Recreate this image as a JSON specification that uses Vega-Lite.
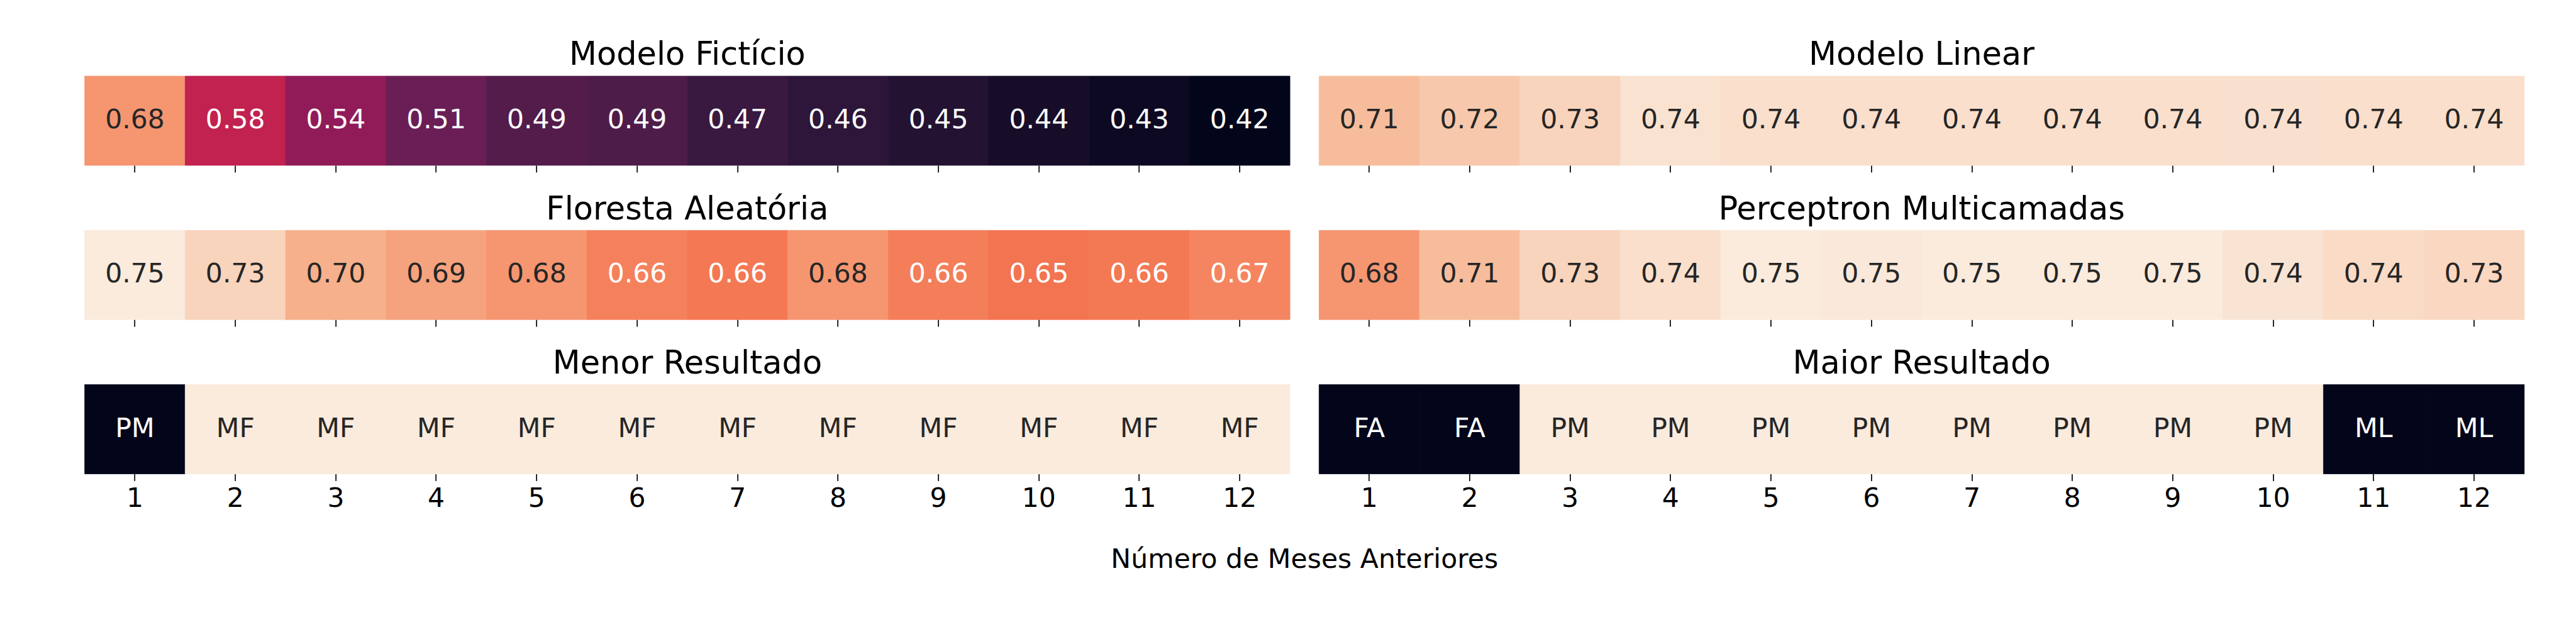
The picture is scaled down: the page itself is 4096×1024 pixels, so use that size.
{
  "$schema": "https://vega.github.io/schema/vega-lite/v6.json",
  "background": "white",
  "padding": {"left": 133.7, "top": 62, "right": 20, "bottom": 20},
  "config": {"view": {"stroke": null}, "font": "DejaVu Sans", "title": {"fontSize": 51, "font": "DejaVu Sans", "fontWeight": "normal", "color": "black", "baseline": "bottom", "offset": 6.3}},
  "title": {"text": "Número de Meses Anteriores", "orient": "bottom", "anchor": "middle", "fontSize": 42.6, "font": "DejaVu Sans", "fontWeight": "normal", "color": "black", "baseline": "alphabetic", "offset": 88},
  "datasets": {
    "ficticio": [
      {"mes": 1, "valor": 0.68}, {"mes": 2, "valor": 0.58}, {"mes": 3, "valor": 0.54}, {"mes": 4, "valor": 0.51},
      {"mes": 5, "valor": 0.491}, {"mes": 6, "valor": 0.487}, {"mes": 7, "valor": 0.47}, {"mes": 8, "valor": 0.46},
      {"mes": 9, "valor": 0.45}, {"mes": 10, "valor": 0.44}, {"mes": 11, "valor": 0.43}, {"mes": 12, "valor": 0.42}
    ],
    "linear": [
      {"mes": 1, "valor": 0.71}, {"mes": 2, "valor": 0.72}, {"mes": 3, "valor": 0.73}, {"mes": 4, "valor": 0.742},
      {"mes": 5, "valor": 0.74}, {"mes": 6, "valor": 0.74}, {"mes": 7, "valor": 0.74}, {"mes": 8, "valor": 0.74},
      {"mes": 9, "valor": 0.74}, {"mes": 10, "valor": 0.741}, {"mes": 11, "valor": 0.74}, {"mes": 12, "valor": 0.74}
    ],
    "floresta": [
      {"mes": 1, "valor": 0.75}, {"mes": 2, "valor": 0.73}, {"mes": 3, "valor": 0.70}, {"mes": 4, "valor": 0.69},
      {"mes": 5, "valor": 0.68}, {"mes": 6, "valor": 0.664}, {"mes": 7, "valor": 0.657}, {"mes": 8, "valor": 0.68},
      {"mes": 9, "valor": 0.662}, {"mes": 10, "valor": 0.654}, {"mes": 11, "valor": 0.658}, {"mes": 12, "valor": 0.667}
    ],
    "perceptron": [
      {"mes": 1, "valor": 0.68}, {"mes": 2, "valor": 0.71}, {"mes": 3, "valor": 0.73}, {"mes": 4, "valor": 0.74},
      {"mes": 5, "valor": 0.75}, {"mes": 6, "valor": 0.748}, {"mes": 7, "valor": 0.75}, {"mes": 8, "valor": 0.75},
      {"mes": 9, "valor": 0.75}, {"mes": 10, "valor": 0.744}, {"mes": 11, "valor": 0.736}, {"mes": 12, "valor": 0.733}
    ],
    "menor": [
      {"mes": 1, "modelo": "PM"}, {"mes": 2, "modelo": "MF"}, {"mes": 3, "modelo": "MF"}, {"mes": 4, "modelo": "MF"},
      {"mes": 5, "modelo": "MF"}, {"mes": 6, "modelo": "MF"}, {"mes": 7, "modelo": "MF"}, {"mes": 8, "modelo": "MF"},
      {"mes": 9, "modelo": "MF"}, {"mes": 10, "modelo": "MF"}, {"mes": 11, "modelo": "MF"}, {"mes": 12, "modelo": "MF"}
    ],
    "maior": [
      {"mes": 1, "modelo": "FA"}, {"mes": 2, "modelo": "FA"}, {"mes": 3, "modelo": "PM"}, {"mes": 4, "modelo": "PM"},
      {"mes": 5, "modelo": "PM"}, {"mes": 6, "modelo": "PM"}, {"mes": 7, "modelo": "PM"}, {"mes": 8, "modelo": "PM"},
      {"mes": 9, "modelo": "PM"}, {"mes": 10, "modelo": "PM"}, {"mes": 11, "modelo": "ML"}, {"mes": 12, "modelo": "ML"}
    ]
  },
  "columns": 2,
  "bounds": "flush",
  "spacing": {"row": 103.3, "column": 45.7},
  "resolve": {"scale": {"color": "independent", "stroke": "independent", "x": "independent"}},
  "concat": [
    {
      "width": 1916.4, "height": 141.9,
      "data": {"name": "ficticio"},
      "title": {"text": "Modelo Fictício"},
      "encoding": {"x": {"field": "mes", "type": "ordinal", "scale": {"paddingInner": 0, "paddingOuter": 0}, "axis": {"labels": false, "title": null, "domain": false, "grid": false, "ticks": true, "tickSize": 10.9, "tickWidth": 1.7, "tickColor": "black", "bandPosition": 0.5}}},
      "layer": [
        {"mark": {"type": "rect", "strokeWidth": 0.8}, "encoding": {
          "color": {"field": "valor", "type": "quantitative", "legend": null, "scale": {"domain": [0.42, 0.4671, 0.5143, 0.5614, 0.6086, 0.6557, 0.7029, 0.75], "range": ["#03051a", "#35193e", "#701f57", "#ad1759", "#e13342", "#f37651", "#f6b48f", "#faebdd"], "interpolate": "rgb", "clamp": true}},
          "stroke": {"field": "valor", "type": "quantitative", "legend": null, "scale": {"domain": [0.42, 0.4671, 0.5143, 0.5614, 0.6086, 0.6557, 0.7029, 0.75], "range": ["#03051a", "#35193e", "#701f57", "#ad1759", "#e13342", "#f37651", "#f6b48f", "#faebdd"], "interpolate": "rgb", "clamp": true}}}},
        {"mark": {"type": "text", "baseline": "middle", "dy": -1, "fontSize": 42.6, "font": "DejaVu Sans"}, "encoding": {"text": {"field": "valor", "type": "quantitative", "format": ".2f"}, "color": {"condition": {"test": "datum.valor < 0.675", "value": "white"}, "value": "#262626"}}}
      ]
    },
    {
      "width": 1916.4, "height": 141.9,
      "data": {"name": "linear"},
      "title": {"text": "Modelo Linear"},
      "encoding": {"x": {"field": "mes", "type": "ordinal", "scale": {"paddingInner": 0, "paddingOuter": 0}, "axis": {"labels": false, "title": null, "domain": false, "grid": false, "ticks": true, "tickSize": 10.9, "tickWidth": 1.7, "tickColor": "black", "bandPosition": 0.5}}},
      "layer": [
        {"mark": {"type": "rect", "strokeWidth": 0.8}, "encoding": {
          "color": {"field": "valor", "type": "quantitative", "legend": null, "scale": {"domain": [0.42, 0.4671, 0.5143, 0.5614, 0.6086, 0.6557, 0.7029, 0.75], "range": ["#03051a", "#35193e", "#701f57", "#ad1759", "#e13342", "#f37651", "#f6b48f", "#faebdd"], "interpolate": "rgb", "clamp": true}},
          "stroke": {"field": "valor", "type": "quantitative", "legend": null, "scale": {"domain": [0.42, 0.4671, 0.5143, 0.5614, 0.6086, 0.6557, 0.7029, 0.75], "range": ["#03051a", "#35193e", "#701f57", "#ad1759", "#e13342", "#f37651", "#f6b48f", "#faebdd"], "interpolate": "rgb", "clamp": true}}}},
        {"mark": {"type": "text", "baseline": "middle", "dy": -1, "fontSize": 42.6, "font": "DejaVu Sans"}, "encoding": {"text": {"field": "valor", "type": "quantitative", "format": ".2f"}, "color": {"condition": {"test": "datum.valor < 0.675", "value": "white"}, "value": "#262626"}}}
      ]
    },
    {
      "width": 1916.4, "height": 141.9,
      "data": {"name": "floresta"},
      "title": {"text": "Floresta Aleatória"},
      "encoding": {"x": {"field": "mes", "type": "ordinal", "scale": {"paddingInner": 0, "paddingOuter": 0}, "axis": {"labels": false, "title": null, "domain": false, "grid": false, "ticks": true, "tickSize": 10.9, "tickWidth": 1.7, "tickColor": "black", "bandPosition": 0.5}}},
      "layer": [
        {"mark": {"type": "rect", "strokeWidth": 0.8}, "encoding": {
          "color": {"field": "valor", "type": "quantitative", "legend": null, "scale": {"domain": [0.42, 0.4671, 0.5143, 0.5614, 0.6086, 0.6557, 0.7029, 0.75], "range": ["#03051a", "#35193e", "#701f57", "#ad1759", "#e13342", "#f37651", "#f6b48f", "#faebdd"], "interpolate": "rgb", "clamp": true}},
          "stroke": {"field": "valor", "type": "quantitative", "legend": null, "scale": {"domain": [0.42, 0.4671, 0.5143, 0.5614, 0.6086, 0.6557, 0.7029, 0.75], "range": ["#03051a", "#35193e", "#701f57", "#ad1759", "#e13342", "#f37651", "#f6b48f", "#faebdd"], "interpolate": "rgb", "clamp": true}}}},
        {"mark": {"type": "text", "baseline": "middle", "dy": -1, "fontSize": 42.6, "font": "DejaVu Sans"}, "encoding": {"text": {"field": "valor", "type": "quantitative", "format": ".2f"}, "color": {"condition": {"test": "datum.valor < 0.675", "value": "white"}, "value": "#262626"}}}
      ]
    },
    {
      "width": 1916.4, "height": 141.9,
      "data": {"name": "perceptron"},
      "title": {"text": "Perceptron Multicamadas"},
      "encoding": {"x": {"field": "mes", "type": "ordinal", "scale": {"paddingInner": 0, "paddingOuter": 0}, "axis": {"labels": false, "title": null, "domain": false, "grid": false, "ticks": true, "tickSize": 10.9, "tickWidth": 1.7, "tickColor": "black", "bandPosition": 0.5}}},
      "layer": [
        {"mark": {"type": "rect", "strokeWidth": 0.8}, "encoding": {
          "color": {"field": "valor", "type": "quantitative", "legend": null, "scale": {"domain": [0.42, 0.4671, 0.5143, 0.5614, 0.6086, 0.6557, 0.7029, 0.75], "range": ["#03051a", "#35193e", "#701f57", "#ad1759", "#e13342", "#f37651", "#f6b48f", "#faebdd"], "interpolate": "rgb", "clamp": true}},
          "stroke": {"field": "valor", "type": "quantitative", "legend": null, "scale": {"domain": [0.42, 0.4671, 0.5143, 0.5614, 0.6086, 0.6557, 0.7029, 0.75], "range": ["#03051a", "#35193e", "#701f57", "#ad1759", "#e13342", "#f37651", "#f6b48f", "#faebdd"], "interpolate": "rgb", "clamp": true}}}},
        {"mark": {"type": "text", "baseline": "middle", "dy": -1, "fontSize": 42.6, "font": "DejaVu Sans"}, "encoding": {"text": {"field": "valor", "type": "quantitative", "format": ".2f"}, "color": {"condition": {"test": "datum.valor < 0.675", "value": "white"}, "value": "#262626"}}}
      ]
    },
    {
      "width": 1916.4, "height": 141.9,
      "data": {"name": "menor"},
      "title": {"text": "Menor Resultado"},
      "encoding": {"x": {"field": "mes", "type": "ordinal", "scale": {"paddingInner": 0, "paddingOuter": 0}, "axis": {"labels": true, "labelFontSize": 42.6, "labelFont": "DejaVu Sans", "labelColor": "black", "labelAngle": 0, "labelBaseline": "alphabetic", "labelPadding": 41.6, "title": null, "domain": false, "grid": false, "ticks": true, "tickSize": 10.9, "tickWidth": 1.7, "tickColor": "black", "bandPosition": 0.5}}},
      "layer": [
        {"mark": {"type": "rect", "strokeWidth": 0.8}, "encoding": {
          "color": {"field": "modelo", "type": "nominal", "legend": null, "scale": {"domain": ["PM", "MF"], "range": ["#03051a", "#faebdd"]}},
          "stroke": {"field": "modelo", "type": "nominal", "legend": null, "scale": {"domain": ["PM", "MF"], "range": ["#03051a", "#faebdd"]}}}},
        {"mark": {"type": "text", "baseline": "middle", "dy": -1, "fontSize": 42.6, "font": "DejaVu Sans"}, "encoding": {"text": {"field": "modelo", "type": "nominal"}, "color": {"condition": {"test": "datum.modelo === 'PM'", "value": "white"}, "value": "#262626"}}}
      ]
    },
    {
      "width": 1916.4, "height": 141.9,
      "data": {"name": "maior"},
      "title": {"text": "Maior Resultado"},
      "encoding": {"x": {"field": "mes", "type": "ordinal", "scale": {"paddingInner": 0, "paddingOuter": 0}, "axis": {"labels": true, "labelFontSize": 42.6, "labelFont": "DejaVu Sans", "labelColor": "black", "labelAngle": 0, "labelBaseline": "alphabetic", "labelPadding": 41.6, "title": null, "domain": false, "grid": false, "ticks": true, "tickSize": 10.9, "tickWidth": 1.7, "tickColor": "black", "bandPosition": 0.5}}},
      "layer": [
        {"mark": {"type": "rect", "strokeWidth": 0.8}, "encoding": {
          "color": {"field": "modelo", "type": "nominal", "legend": null, "scale": {"domain": ["FA", "PM", "ML"], "range": ["#03051a", "#faebdd", "#03051a"]}},
          "stroke": {"field": "modelo", "type": "nominal", "legend": null, "scale": {"domain": ["FA", "PM", "ML"], "range": ["#03051a", "#faebdd", "#03051a"]}}}},
        {"mark": {"type": "text", "baseline": "middle", "dy": -1, "fontSize": 42.6, "font": "DejaVu Sans"}, "encoding": {"text": {"field": "modelo", "type": "nominal"}, "color": {"condition": {"test": "datum.modelo !== 'PM'", "value": "white"}, "value": "#262626"}}}
      ]
    }
  ]
}
